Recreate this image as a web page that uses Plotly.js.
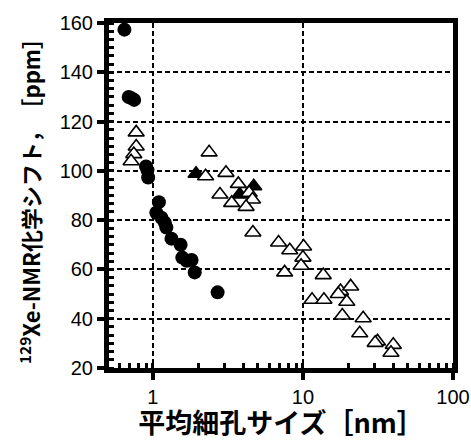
<!DOCTYPE html>
<html>
<head>
<meta charset="utf-8">
<script src="https://cdn.plot.ly/plotly-3.0.1.min.js"></script>
<style>html,body{margin:0;padding:0;background:#fff;}#chart{width:471px;height:441px;}</style>
</head>
<body>
<div id="chart"></div>
<script>
// Filled circles
const circleX = [0.646,0.69,0.72,0.75,0.90,0.92,0.93,1.097,1.054,1.14,1.20,1.23,1.33,1.53,1.57,1.68,1.81,1.90,2.70];
const circleY = [157.3,130.0,129.5,128.8,101.8,100.3,97.3,87.3,83.0,81.0,79.0,77.0,72.5,70.0,64.8,63.5,63.8,58.8,50.7];
// Open triangles
const openTriX = [0.774,0.774,0.746,0.716,2.37,2.245,3.07,2.80,3.71,3.35,4.38,4.61,4.18,4.64,6.88,8.17,10.1,10.0,9.72,7.55,13.65,11.5,13.8,17.8,17.2,20.8,19.6,18.3,25.2,23.9,31.4,30.3,40.0,38.6];
const openTriY = [115.6,109.9,106.8,103.9,107.5,97.8,99.2,90.4,94.7,87.0,91.1,88.4,85.4,75.0,70.9,67.8,69.3,64.8,61.5,58.8,57.7,47.7,47.7,51.2,50.0,53.1,46.9,41.3,40.2,34.1,30.8,30.2,29.4,26.2];
// Filled triangles
const fillTriX = [1.94,3.79,4.70];
const fillTriY = [98.8,90.4,93.8];

const yTickVals = [20,40,60,80,100,120,140,160];

const xTitle = '平均細孔サイズ［nm］';
const yTitle = '<sup>129</sup>Xe-NMR化学シフト，　［ppm］';

const traces = [
  {x: fillTriX, y: fillTriY, mode: 'markers', type: 'scatter',
   marker: {symbol: 'triangle-up', size: 14, color: '#000', line: {color: '#000', width: 1.5}}},
  {x: openTriX, y: openTriY, mode: 'markers', type: 'scatter',
   marker: {symbol: 'triangle-up', size: 14, color: '#fff', line: {color: '#000', width: 1.6}}},
  {x: circleX, y: circleY, mode: 'markers', type: 'scatter',
   marker: {symbol: 'circle', size: 14, color: '#000', line: {width: 0}}}
];

const tickFont = {family: 'Liberation Sans, Arial, sans-serif', size: 20, color: '#000'};
const layout = {
  width: 471, height: 441,
  margin: {l: 109, r: 18, t: 23, b: 73},
  paper_bgcolor: '#fff', plot_bgcolor: '#fff',
  showlegend: false,
  xaxis: {
    type: 'log', range: [Math.log10(0.51), 2],
    tickmode: 'linear', tick0: 0, dtick: 1,
    ticks: 'outside', ticklen: 7, tickwidth: 4, tickcolor: '#000',
    showline: true, linewidth: 5, linecolor: '#000', mirror: true,
    showgrid: true, gridcolor: '#000', gridwidth: 2, griddash: '5px,3px',
    zeroline: false, tickfont: tickFont,
    minor: {dtick: 'D1', ticks: 'inside', ticklen: 5, tickwidth: 3, tickcolor: '#000', showgrid: false},
    title: {text: xTitle, font: {family: 'Noto Sans CJK JP, sans-serif', size: 27, color: '#000', weight: 'bold'}, standoff: 11}
  },
  yaxis: {
    range: [20, 160],
    tickmode: 'array', tickvals: yTickVals,
    ticks: 'outside', ticklen: 7, tickwidth: 4, tickcolor: '#000',
    showline: true, linewidth: 5, linecolor: '#000', mirror: true,
    showgrid: true, gridcolor: '#000', gridwidth: 2, griddash: '5px,3px',
    zeroline: false, tickfont: tickFont,
    minor: {tickmode: 'linear', tick0: 20, dtick: 20/6, ticks: 'inside', ticklen: 5, tickwidth: 3, tickcolor: '#000', showgrid: false},
    title: {text: yTitle, font: {family: 'Noto Sans CJK JP, sans-serif', size: 22, color: '#000', weight: 'bold'}, standoff: 14}
  }
};
Plotly.newPlot('chart', traces, layout, {displayModeBar: false, staticPlot: true});
</script>
</body>
</html>
